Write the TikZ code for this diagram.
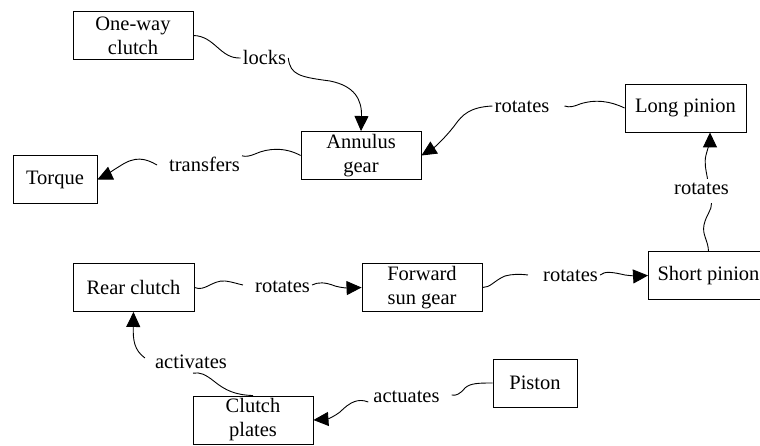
\documentclass[tikz,border=0pt]{standalone}
\usepackage{fontspec}
\setmainfont{LiberationSerif}[Extension=.ttf, UprightFont=*-Regular, BoldFont=*-Bold, ItalicFont=*-Italic]
\usetikzlibrary{arrows.meta}
\begin{document}
\begin{tikzpicture}[x=1pt,y=-1pt,
  every node/.style={font=\rmfamily\fontsize{20.5}{24}\selectfont},
  box/.style={draw, line width=0.9pt, minimum width=120pt, minimum height=48pt, inner sep=0pt, align=center},
  smallbox/.style={box, minimum width=84pt},
  lbl/.style={anchor=base, inner sep=2pt, text height=14pt, text depth=0pt},
  edge/.style={line width=0.9pt},
  arr/.style={edge, -{Triangle[length=15pt,width=14pt]}}]
\path[use as bounding box, fill=white] (0,0) rectangle (760,446);
% boxes
\node[box] (oneway) at (133,35.5) {One-way\\clutch};
\node[box] (annulus) at (361,155.5) {Annulus\\gear};
\node[smallbox] (torque) at (55,179.5) {Torque};
\node[box, minimum width=121pt] (longp) at (685.5,108) {Long pinion};
\node[box] (shortp) at (708.5,275.5) {Short pinion};
\node[box, minimum width=121pt] (rear) at (133.5,287.5) {Rear clutch};
\node[box] (fwd) at (422,287.5) {Forward\\sun gear};
\node[box] (plates) at (253,420) {Clutch\\plates};
\node[smallbox] (piston) at (535,383) {Piston};
% labels
\node[lbl] (locks) at (264.5,65) {locks};
\node[lbl] (transfers) at (204.5,172) {transfers};
\node[lbl] (rot1) at (522,113) {rotates};
\node[lbl] (rot2) at (701.5,195) {rotates};
\node[lbl] (rot3) at (282.5,292) {rotates};
\node[lbl] (rot4) at (570.5,282) {rotates};
\node[lbl] (activates) at (191,368) {activates};
\node[lbl] (actuates) at (406.5,402) {actuates};
% edges
\draw[edge] (oneway.east) .. controls (215,36) and (220,59) .. (locks.west);
\draw[arr] (locks.east) .. controls (290,75) and (300,77) .. (330,81)
  .. controls (355,86) and (362,100) .. (annulus.north);
\draw[edge] (annulus.west) .. controls (285,147) and (268,148) .. (255,154)
  .. controls (250,156) and (246,157) .. (transfers.north east);
\draw[arr] ([xshift=-10pt]transfers.west) .. controls (145,158) and (135,156) .. (120,166)
  .. controls (110,172) and (105,176) .. (torque.east);
\draw[edge] (longp.west) .. controls (610,101) and (595,99) .. (580,104)
  .. controls (575,106) and (570,108) .. ([xshift=13pt]rot1.east);
\draw[arr] (rot1.west) .. controls (470,107) and (462,115) .. (455,125)
  .. controls (445,138) and (435,147) .. (annulus.east);
\draw[edge] (shortp.north) .. controls (708,240) and (702,235) .. (704,225)
  .. controls (706,215) and (712,210) .. ([shift={(10,6)}]rot2.south);
\draw[arr] ([xshift=6pt]rot2.north) .. controls (706,170) and (704,163) .. (706,155)
  .. controls (708,148) and (710,140) .. ([xshift=24.5pt]longp.south);
\draw[edge] (rear.east) .. controls (205,292) and (212,280) .. (225,281)
  .. controls (233,282) and (238,284) .. ([xshift=-10pt]rot3.west);
\draw[arr] (rot3.east) .. controls (318,282) and (325,282) .. (335,286)
  .. controls (342,288) and (348,288) .. (fwd.west);
\draw[edge] (fwd.east) .. controls (490,288) and (495,280) .. (505,276)
  .. controls (512,274) and (520,274) .. ([xshift=-13pt]rot4.west);
\draw[arr] (rot4.east) .. controls (605,271) and (612,272) .. (625,275)
  .. controls (632,276) and (640,276) .. (shortp.west);
\draw[edge] (plates.north) .. controls (235,395) and (225,390) .. (215,382)
  .. controls (205,374) and (200,372) .. ([shift={(2,3)}]activates.south);
\draw[arr] ([shift={(-8,-3)}]activates.west) .. controls (134,350) and (133,340) .. (rear.south);
\draw[edge] (piston.west) .. controls (480,383) and (470,383) .. (465,388)
  .. controls (460,394) and (456,396) .. ([xshift=10pt]actuates.east);
\draw[arr] ([shift={(-3,7)}]actuates.west) .. controls (358,398) and (350,402) .. (340,412)
  .. controls (335,416) and (328,419) .. (plates.east);
\end{tikzpicture}
\end{document}
